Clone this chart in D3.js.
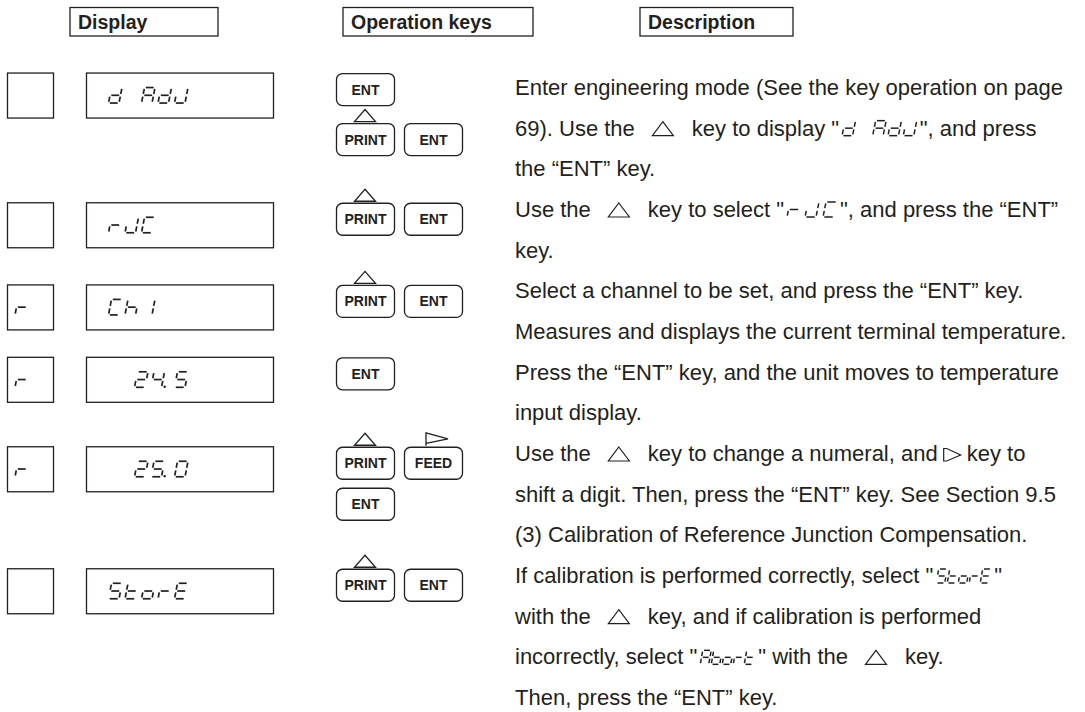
<!DOCTYPE html>
<html><head><meta charset="utf-8">
<script src="https://cdn.jsdelivr.net/npm/d3@7"></script>
<style>body{margin:0;background:#fff}svg{display:block}</style></head>
<body><svg id="c" width="1085" height="712"></svg>
<script>
// ---------- data ----------
const headers = ["Display", "Operation keys", "Description"];
const statusText = ["", "", "r", "r", "r", ""];
const displayText = ["d AdJ", "rJC", "Ch1", "24.5", "25.0", "StorE"];
const displayNumeric = [false, false, false, true, true, false];
const rowAt = [-0.54, 2.65, 4.67, 6.45, 8.65, 11.65];   // row top, in description-line units
const keyRows = [
  [["ENT"], ["PRINT", "ENT"]],
  [["PRINT", "ENT"]],
  [["PRINT", "ENT"]],
  [["ENT"]],
  [["PRINT", "FEED"], ["ENT"]],
  [["PRINT", "ENT"]]
];
const keyArrow = { PRINT: "up", FEED: "right", ENT: null };
const descLines = [
  ["Enter engineering mode (See the key operation on page"],
  ["69). Use the", { tri: 1 }, "key to display \"", { seg: "d AdJ" }, "\", and press"],
  ["the \u201cENT\u201d key."],
  ["Use the", { tri: 1 }, "key to select \"", { seg: "rJC" }, "\", and press the \u201cENT\u201d"],
  ["key."],
  ["Select a channel to be set, and press the \u201cENT\u201d key."],
  ["Measures and displays the current terminal temperature."],
  ["Press the \u201cENT\u201d key, and the unit moves to temperature"],
  ["input display."],
  ["Use the", { tri: 1 }, "key to change a numeral, and", { ptr: 1 }, "key to"],
  ["shift a digit. Then, press the \u201cENT\u201d key. See Section 9.5"],
  ["(3) Calibration of Reference Junction Compensation."],
  ["If calibration is performed correctly, select \"", { seg: "StorE" }, "\""],
  ["with the", { tri: 1 }, "key, and if calibration is performed"],
  ["incorrectly, select \"", { seg: "Abort" }, "\" with the", { tri: 1 }, "key."],
  ["Then, press the \u201cENT\u201d key."]
];

// ---------- rendering ----------
const INK = "#231f20";
const FONT = "'Liberation Sans', Arial, Helvetica, sans-serif";
const svg = d3.select("#c");

const yLine = d3.scaleLinear().domain([0, 15]).range([95, 705]);
const xCol = d3.scaleLinear().domain([0, 1]).range([108.5, 125]);
const xKey = d3.scaleLinear().domain([0, 1]).range([336, 404]);

const SEG_MAP = { " ": "", "0": "abcdef", "1": "bc", "2": "abdeg", "4": "bcfg", "5": "acdfg",
  "A": "abcefg", "b": "cdefg", "C": "adef", "d": "bcdeg", "E": "adefg", "h": "cefg",
  "J": "bcde", "o": "cdeg", "r": "eg", "S": "acdfg", "t": "defg" };

function drawGlyph(g, ch, x, yb, w, h, sl, sw) {
  const gp = 1.3, m = h / 2;
  const seg = { a: [[gp, 0], [w - gp, 0]], b: [[w, gp], [w, m - gp]], c: [[w, m + gp], [w, h - gp]],
    d: [[gp, h], [w - gp, h]], e: [[0, m + gp], [0, h - gp]], f: [[0, gp], [0, m - gp]], g: [[gp, m], [w - gp, m]] };
  const P = ([u, v]) => [x + u + (h - v) / h * sl, yb - h + v];
  for (const s of (SEG_MAP[ch] || "")) {
    g.append("path").attr("d", d3.line()(seg[s].map(P)))
      .attr("stroke", INK).attr("stroke-width", sw).attr("fill", "none");
  }
}
function drawSegString(g, str, x, yb, o) {
  let cx = x;
  for (const ch of str) {
    if (ch === ".") {
      g.append("circle").attr("cx", cx - o.pitch + o.w + 3.2).attr("cy", yb - 0.6).attr("r", 1.2).attr("fill", INK);
      cx += o.dot;
      continue;
    }
    drawGlyph(g, ch, cx, yb, o.w, o.h, o.sl, o.sw);
    cx += o.pitch;
  }
  return cx - o.pitch + o.w + o.sl;
}

// headers
const hx = [70, 343, 640], hw = [148, 190, 153];
headers.forEach((t, i) => {
  svg.append("rect").attr("x", hx[i]).attr("y", 7.5).attr("width", hw[i]).attr("height", 28.5)
    .attr("fill", "none").attr("stroke", INK).attr("stroke-width", 1.3);
  svg.append("text").attr("x", hx[i] + 8).attr("y", 29).text(t)
    .attr("font-family", FONT).attr("font-weight", "bold").attr("font-size", 19.5).attr("fill", INK);
});

// display rows
const dispOpt = { w: 10.5, h: 15.5, sl: 3, sw: 1.7, pitch: 16.5, dot: 7 };
displayText.forEach((t, r) => {
  const top = yLine(rowAt[r]);
  const g = svg.append("g");
  g.append("rect").attr("x", 7.5).attr("y", top).attr("width", 46).attr("height", 45)
    .attr("fill", "none").attr("stroke", INK).attr("stroke-width", 1.3);
  g.append("rect").attr("x", 86.5).attr("y", top).attr("width", 187).attr("height", 45)
    .attr("fill", "none").attr("stroke", INK).attr("stroke-width", 1.3);
  const yb = top + 30;
  if (statusText[r]) drawSegString(g, statusText[r], 15, yb, dispOpt);
  let x0 = xCol(0);
  if (displayNumeric[r]) {
    const nd = t.replace(".", "").length, nDot = (t.match(/\./g) || []).length;
    x0 = xCol(4) - (nd - 1) * dispOpt.pitch - nDot * dispOpt.dot;
  }
  drawSegString(g, t, x0, yb, dispOpt);
});

// keys
keyRows.forEach((lines, r) => {
  let y = yLine(rowAt[r]);
  lines.forEach((line, li) => {
    const hasArrow = line.some(k => keyArrow[k]);
    if (li > 0) y += 32 + (hasArrow ? 18 : 9);
    line.forEach((k, c) => {
      const x = xKey(c);
      svg.append("rect").attr("x", x + 0.5).attr("y", y + 0.5).attr("width", 58).attr("height", 32)
        .attr("rx", 6).attr("fill", "#fff").attr("stroke", INK).attr("stroke-width", 1.3);
      svg.append("text").attr("x", x + 29.5).attr("y", y + 21.5).attr("text-anchor", "middle").text(k)
        .attr("font-family", FONT).attr("font-weight", "bold").attr("font-size", 14).attr("fill", INK);
      if (keyArrow[k] === "up") {
        svg.append("path").attr("d", `M${x + 29},${y - 13.5}L${x + 39.5},${y - 1.5}L${x + 18.5},${y - 1.5}Z`)
          .attr("fill", "none").attr("stroke", INK).attr("stroke-width", 1.3);
      } else if (keyArrow[k] === "right") {
        svg.append("path").attr("d", `M${x + 22},${y - 1}L${x + 22},${y - 14}L${x + 44},${y - 8}L${x + 22},${y - 3.5}`)
          .attr("fill", "none").attr("stroke", INK).attr("stroke-width", 1.3);
      }
    });
  });
});

// description
const inlineOpt = {
  "d AdJ": { w: 10.5, h: 15, sl: 3, sw: 1.5, pitch: 15.3, dot: 7 },
  "rJC": { w: 11, h: 15, sl: 3, sw: 1.5, pitch: 18, dot: 7 },
  "StorE": { w: 8.5, h: 14, sl: 2.5, sw: 1.5, pitch: 11, dot: 7 },
  "Abort": { w: 8.5, h: 14, sl: 2.5, sw: 1.5, pitch: 11, dot: 7 }
};
descLines.forEach((parts, i) => {
  const y = yLine(i);
  let x = 515, prev = null;
  parts.forEach(p => {
    if (typeof p === "string") {
      if (prev === "tri") x += 19; else if (prev === "ptr") x += 6; else if (prev === "seg") x += 3;
      const t = svg.append("text").attr("x", x).attr("y", y).text(p)
        .attr("font-family", FONT).attr("font-size", 22).attr("fill", INK);
      x += t.node().getComputedTextLength();
      prev = "text";
    } else if (p.tri) {
      x += 18;
      svg.append("path").attr("d", `M${x + 10},${y - 14}L${x + 20.5},${y}L${x - 0.5},${y}Z`)
        .attr("fill", "none").attr("stroke", INK).attr("stroke-width", 1.2);
      x += 20; prev = "tri";
    } else if (p.ptr) {
      x += 6;
      svg.append("path").attr("d", `M${x + 3},${y - 12.5}L${x},${y - 12.5}L${x},${y}L${x + 3},${y}L${x + 17},${y - 6}Z`)
        .attr("fill", "none").attr("stroke", INK).attr("stroke-width", 1.2);
      x += 17; prev = "ptr";
    } else if (p.seg) {
      x += 3;
      const o = inlineOpt[p.seg];
      x = drawSegString(svg.append("g"), p.seg, x, y, o);
      prev = "seg";
    }
  });
});
</script>
</body></html>
